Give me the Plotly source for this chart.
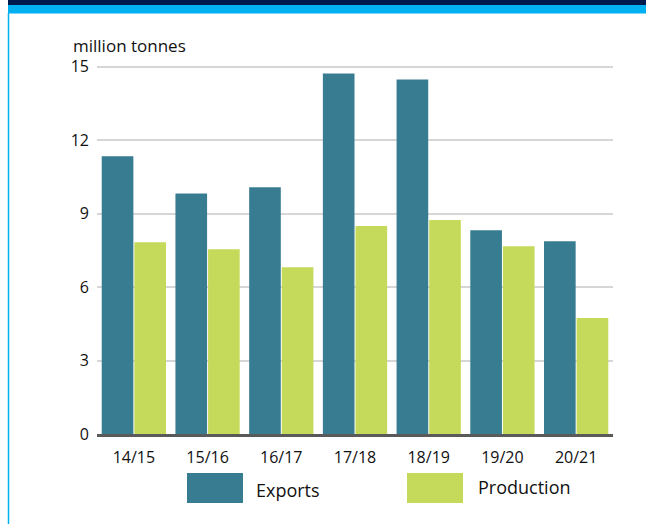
import plotly.graph_objects as go

# Data
seasons = ["14/15", "15/16", "16/17", "17/18", "18/19", "19/20", "20/21"]
exports = [11.35, 9.83, 10.08, 14.73, 14.49, 8.33, 7.88]
production = [7.83, 7.55, 6.81, 8.50, 8.74, 7.67, 4.74]
y_ticks = [0, 3, 6, 9, 12, 15]

export_color = "#387C91"
production_color = "#C5DA5A"
font_family = "Open Sans, Noto Sans, sans-serif"

fig = go.Figure()
fig.add_trace(go.Bar(x=seasons, y=exports, name="Exports",
                     marker=dict(color=export_color, line=dict(width=0))))
fig.add_trace(go.Bar(x=seasons, y=production, name="Production",
                     marker=dict(color=production_color, line=dict(width=0))))

# plot area in pixels: x 97..613, y 62..434
def px_x(p):
    return (p - 97) / 516

def px_y(p):
    return (434 - p) / 372

shapes = [
    # header bands and left rule
    dict(type="rect", xref="paper", yref="paper", x0=px_x(8), x1=px_x(700),
         y0=px_y(5), y1=px_y(-5), fillcolor="#001A4D", line=dict(width=0), layer="above"),
    dict(type="rect", xref="paper", yref="paper", x0=px_x(8), x1=px_x(700),
         y0=px_y(13.5), y1=px_y(5), fillcolor="#00B0F0", line=dict(width=0), layer="above"),
    dict(type="line", xref="paper", yref="paper", x0=px_x(8.5), x1=px_x(8.5),
         y0=px_y(13), y1=px_y(530), line=dict(color="#00B0F0", width=1.5)),
    # legend swatches
    dict(type="rect", xref="paper", yref="paper", x0=px_x(187), x1=px_x(243),
         y0=px_y(503), y1=px_y(473), fillcolor=export_color, line=dict(width=0)),
    dict(type="rect", xref="paper", yref="paper", x0=px_x(407), x1=px_x(463),
         y0=px_y(503), y1=px_y(473), fillcolor=production_color, line=dict(width=0)),
]

annotations = [
    dict(text="million tonnes", xref="paper", yref="paper", x=px_x(71), y=px_y(45),
         xanchor="left", yanchor="middle", showarrow=False,
         font=dict(size=17, color="#111111")),
    dict(text="Exports", xref="paper", yref="paper", x=px_x(254), y=px_y(490),
         xanchor="left", yanchor="middle", showarrow=False,
         font=dict(size=18, color="#111111")),
    dict(text="Production", xref="paper", yref="paper", x=px_x(476), y=px_y(487),
         xanchor="left", yanchor="middle", showarrow=False,
         font=dict(size=18, color="#111111")),
]

fig.update_layout(
    width=646, height=524,
    margin=dict(l=97, r=33, t=62, b=90),
    paper_bgcolor="white", plot_bgcolor="white",
    font=dict(family=font_family, size=16, color="#111111"),
    barmode="group", bargap=0.115, bargroupgap=0.03,
    showlegend=False,
    shapes=shapes, annotations=annotations,
    xaxis=dict(showgrid=False, showline=True, linecolor="#5a5a5a", linewidth=2.5,
               ticks="", ticklabelstandoff=7, tickfont=dict(size=16)),
    yaxis=dict(range=[0, 15.2], tickvals=y_ticks, showgrid=True, gridcolor="#d6d6d6",
               gridwidth=1.5, zeroline=False, showline=False, ticks="",
               ticklabelstandoff=7, tickfont=dict(size=16)),
)

fig.write_html("out.html", config={"displayModeBar": False},
               post_script="document.body.style.margin='0';")
